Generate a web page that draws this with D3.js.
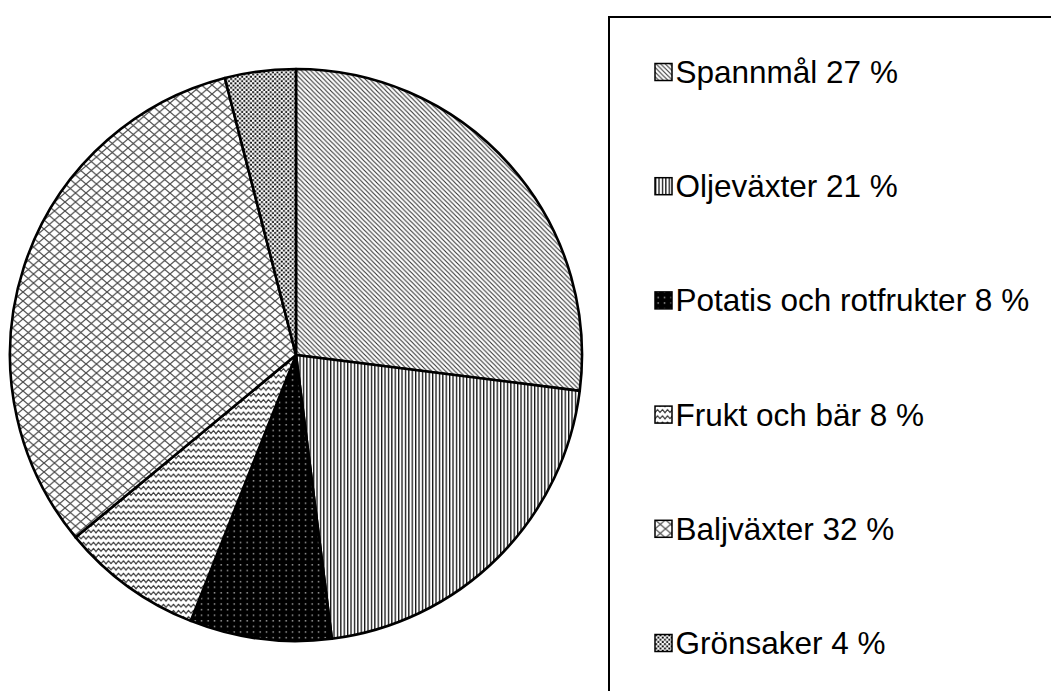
<!DOCTYPE html>
<html>
<head>
<meta charset="utf-8">
<script src="https://cdn.jsdelivr.net/npm/d3@7"></script>
<style>
  html, body { margin: 0; padding: 0; background: #fff; }
  svg { display: block; font-family: "Liberation Sans", Arial, sans-serif; }
</style>
</head>
<body>
<svg id="chart" width="1051" height="691"></svg>
<script>
const categories = ["Spannmål", "Oljeväxter", "Potatis och rotfrukter", "Frukt och bär", "Baljväxter", "Grönsaker"];
const shares = [27, 21, 8, 8, 32, 4];
const patternIds = ["p-diag", "p-vert", "p-dots-dark", "p-wave", "p-lattice", "p-dots"];

const svg = d3.select("#chart");
const defs = svg.append("defs");

// fill patterns, roughly like the old office hatch fills
const diag = defs.append("pattern").attr("id", "p-diag")
  .attr("patternUnits", "userSpaceOnUse").attr("width", 4.6).attr("height", 4.6);
diag.append("rect").attr("width", 4.6).attr("height", 4.6).attr("fill", "#fff");
diag.append("path").attr("d", "M-1,-1 L5.6,5.6 M-1,3.6 L1,5.6 M3.6,-1 L5.6,1")
  .attr("stroke", "#333").attr("stroke-width", 1.1);

const vert = defs.append("pattern").attr("id", "p-vert")
  .attr("patternUnits", "userSpaceOnUse").attr("width", 3.4).attr("height", 10);
vert.append("rect").attr("width", 3.4).attr("height", 10).attr("fill", "#fff");
vert.append("rect").attr("x", 0).attr("width", 1.3).attr("height", 10).attr("fill", "#111");

const dotsDark = defs.append("pattern").attr("id", "p-dots-dark")
  .attr("patternUnits", "userSpaceOnUse").attr("width", 6.5).attr("height", 5.6);
dotsDark.append("rect").attr("width", 6.5).attr("height", 5.6).attr("fill", "#000");
dotsDark.append("rect").attr("x", 2.5).attr("y", 2).attr("width", 1.3).attr("height", 1.3).attr("fill", "#ccc");

// zigzag rows for "Frukt och bär"
const wave = defs.append("pattern").attr("id", "p-wave")
  .attr("patternUnits", "userSpaceOnUse").attr("width", 10).attr("height", 6.2);
wave.append("rect").attr("width", 10).attr("height", 6.2).attr("fill", "#fff");
wave.append("path").attr("d", "M-0.5,5 L2.5,1.2 L5,4 L7.5,1.2 L10.5,5")
  .attr("fill", "none").attr("stroke", "#3a3a3a").attr("stroke-width", 1.2)
  .attr("stroke-linejoin", "round");

const lattice = defs.append("pattern").attr("id", "p-lattice")
  .attr("patternUnits", "userSpaceOnUse").attr("width", 10.5).attr("height", 9);
lattice.append("rect").attr("width", 10.5).attr("height", 9).attr("fill", "#fff");
lattice.append("path").attr("d", "M0,0 L10.5,9 M10.5,0 L0,9")
  .attr("stroke", "#4a4a4a").attr("stroke-width", 1.2);

const dots = defs.append("pattern").attr("id", "p-dots")
  .attr("patternUnits", "userSpaceOnUse").attr("width", 4.4).attr("height", 4.4);
dots.append("rect").attr("width", 4.4).attr("height", 4.4).attr("fill", "#fff");
dots.append("rect").attr("x", 0.2).attr("y", 0.2).attr("width", 1.9).attr("height", 1.9).attr("fill", "#000");
dots.append("rect").attr("x", 2.4).attr("y", 2.4).attr("width", 1.9).attr("height", 1.9).attr("fill", "#000");

const data = categories.map((c, i) => ({ name: c, value: shares[i], pat: patternIds[i] }));

// pie
const cx = 296, cy = 355, radius = 286;
const pie = d3.pie().value(d => d.value).sort(null);
const arc = d3.arc().innerRadius(0).outerRadius(radius);

svg.append("g")
  .attr("transform", `translate(${cx},${cy})`)
  .selectAll("path")
  .data(pie(data))
  .join("path")
  .attr("d", arc)
  .attr("fill", d => `url(#${d.data.pat})`)
  .attr("stroke", "#000")
  .attr("stroke-width", 2.6)
  .attr("stroke-linejoin", "round");

// legend
const legend = svg.append("g");
legend.append("rect")
  .attr("x", 609).attr("y", 17)
  .attr("width", 600).attr("height", 800)
  .attr("fill", "#fff").attr("stroke", "#000").attr("stroke-width", 2);

const rowY = d3.scalePoint().domain(categories).range([72, 643]);

const rows = legend.selectAll("g.row")
  .data(data)
  .join("g")
  .attr("class", "row")
  .attr("transform", d => `translate(655,${rowY(d.name)})`);

rows.append("rect")
  .attr("x", 0).attr("y", -8.5)
  .attr("width", 17).attr("height", 17)
  .attr("fill", d => `url(#${d.pat})`)
  .attr("stroke", "#000").attr("stroke-width", 1.5);

rows.append("text")
  .attr("x", 20.5).attr("y", 0)
  .attr("dy", "0.35em")
  .attr("font-size", 31.5)
  .attr("fill", "#000")
  .text(d => `${d.name} ${d.value} %`);
</script>
</body>
</html>
